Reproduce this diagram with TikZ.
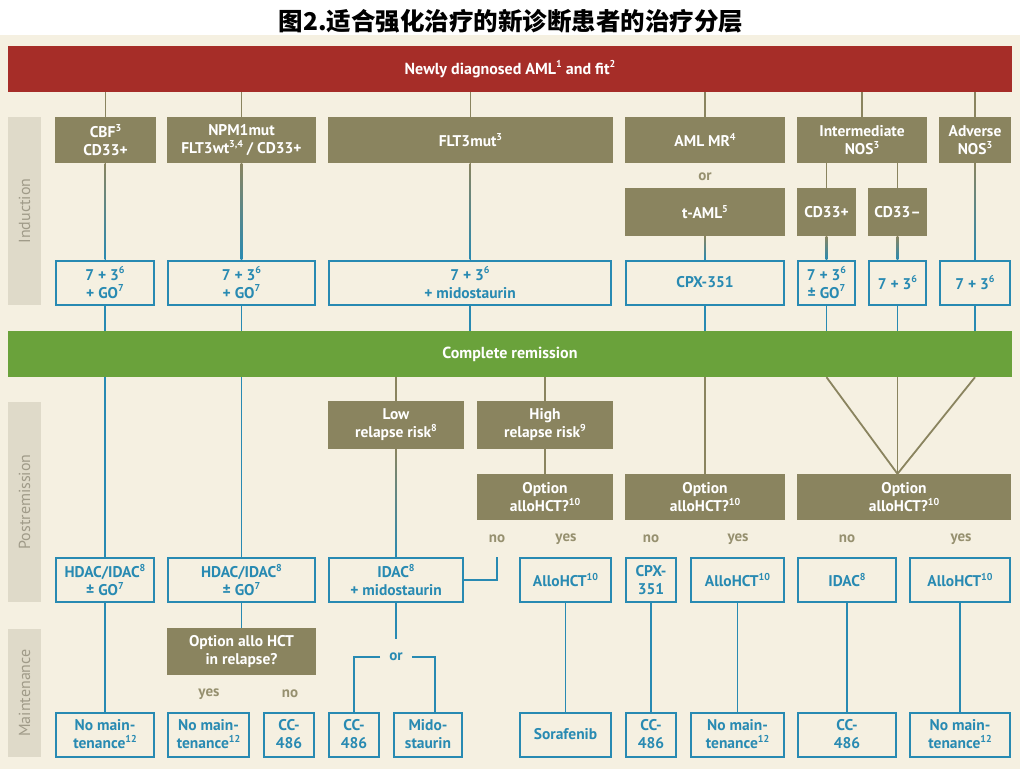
\documentclass[tikz,border=0pt]{standalone}
\usepackage{fontspec}
\setmainfont{PT Sans}
\newfontfamily\cjk{Noto Sans CJK SC}
\newcommand{\fnote}[1]{\raisebox{0.4em}{\fontsize{10}{10}\selectfont #1}}
\definecolor{bgc}{RGB}{245,240,225}
\definecolor{redc}{RGB}{166,45,40}
\definecolor{olivec}{RGB}{138,132,95}
\definecolor{greenc}{RGB}{106,162,59}
\definecolor{bluec}{RGB}{40,138,178}
\definecolor{bandc}{RGB}{223,218,201}
\definecolor{bandtxt}{RGB}{160,155,137}
\begin{document}
\begin{tikzpicture}[x=1pt, y=-1pt,
            obox/.style={fill=olivec, text=white, font=\bfseries\fontsize{15.5}{18}\selectfont, align=center, inner sep=0pt, minimum height=46},
            bbox/.style={draw=bluec, line width=2pt, fill=bgc, text=bluec, font=\bfseries\fontsize{15.5}{18}\selectfont, align=center, inner sep=0pt, minimum height=44},
            band/.style={fill=bandc, text=bandtxt, font=\fontsize{16}{18}\selectfont, minimum height=33, inner sep=0pt, rotate=90},
            bar/.style={text=white, font=\bfseries\fontsize{16}{18}\selectfont, minimum width=1004, minimum height=46, inner sep=0pt},
            answer/.style={text=olivec!90, font=\bfseries\fontsize{15}{17}\selectfont, inner sep=2pt},
            oline/.style={draw=olivec, line width=1.8pt},
            bline/.style={draw=bluec, line width=1.8pt}]
            \useasboundingbox (0,0) rectangle (1020,769);
            \fill[bgc] (0,35) rectangle (1020,769);
            \node[font=\cjk\bfseries\fontsize{24.5}{26}\selectfont] (title) at (511,21) {图2.适合强化治疗的新诊断患者的治疗分层};
            \node[band, minimum width=188] (ind) at (24.5,211) {Induction};
            \node[band, minimum width=200] (post) at (24.5,502) {Postremission};
            \node[band, minimum width=128] (maint) at (24.5,693) {Maintenance};
            \node[bar, fill=redc] (red) at (510,69) {Newly diagnosed AML\fnote{1} and fit\fnote{2}};
            \node[bar, fill=greenc] (green) at (510,354) {Complete remission};
            \node[obox, minimum width=101] (cbf) at (105.5,140) {CBF\fnote{3}\\CD33+};
            \node[obox, minimum width=149] (npm) at (241.5,140) {NPM1mut\\FLT3wt\fnote{3,4} / CD33+};
            \node[obox, minimum width=285] (flt) at (470.5,140) {FLT3mut\fnote{3}};
            \node[obox, minimum width=160] (amlmr) at (705,140) {AML MR\fnote{4}};
            \node[obox, minimum width=130] (inter) at (862,140) {Intermediate\\NOS\fnote{3}};
            \node[obox, minimum width=72] (adv) at (975,140) {Adverse\\NOS\fnote{3}};
            \node[answer] (or1) at (705,177) {or};
            \node[obox, minimum width=160, minimum height=48] (tam) at (705,212) {t-AML\fnote{5}};
            \node[obox, minimum width=59, minimum height=48] (cdp) at (826.5,212) {CD33+};
            \node[obox, minimum width=59, minimum height=48] (cdm) at (897.5,212) {CD33–};
            \node[bbox, minimum width=98] (i1) at (105,282.5) {7 + 3\fnote{6}\\+ GO\fnote{7}};
            \node[bbox, minimum width=147] (i2) at (241.5,282.5) {7 + 3\fnote{6}\\+ GO\fnote{7}};
            \node[bbox, minimum width=282] (i3) at (470,282.5) {7 + 3\fnote{6}\\+ midostaurin};
            \node[bbox, minimum width=158] (i4) at (705,282.5) {CPX-351};
            \node[bbox, minimum width=57] (i5) at (826.5,282.5) {7 + 3\fnote{6}\\± GO\fnote{7}};
            \node[bbox, minimum width=57] (i6) at (897.5,282.5) {7 + 3\fnote{6}};
            \node[bbox, minimum width=70] (i7) at (975,282.5) {7 + 3\fnote{6}};
            \node[obox, minimum width=136, minimum height=48] (low) at (396,425) {Low\\relapse risk\fnote{8}};
            \node[obox, minimum width=136, minimum height=48] (high) at (545,425) {High\\relapse risk\fnote{9}};
            \node[obox, minimum width=136] (opt1) at (545,497) {Option\\alloHCT?\fnote{10}};
            \node[obox, minimum width=160] (opt2) at (705,497) {Option\\alloHCT?\fnote{10}};
            \node[obox, minimum width=214] (opt3) at (904,497) {Option\\alloHCT?\fnote{10}};
            \node[answer] (no1) at (497,539) {no};
            \node[answer] (yes1) at (566,539) {yes};
            \node[answer] (no2) at (651,539) {no};
            \node[answer] (yes2) at (738,539) {yes};
            \node[answer] (no3) at (847,539) {no};
            \node[answer] (yes3) at (961,539) {yes};
            \node[bbox, minimum width=98] (p1) at (105,580) {HDAC/IDAC\fnote{8}\\± GO\fnote{7}};
            \node[bbox, minimum width=147] (p2) at (241.5,580) {HDAC/IDAC\fnote{8}\\± GO\fnote{7}};
            \node[bbox, minimum width=134] (p3) at (396,580) {IDAC\fnote{8}\\+ midostaurin};
            \node[bbox, minimum width=91] (p4) at (565.5,580) {AlloHCT\fnote{10}};
            \node[bbox, minimum width=50] (p5) at (651,580) {CPX-\\351};
            \node[bbox, minimum width=93] (p6) at (737.5,580) {AlloHCT\fnote{10}};
            \node[bbox, minimum width=98] (p7) at (847,580) {IDAC\fnote{8}};
            \node[bbox, minimum width=100] (p8) at (960,580) {AlloHCT\fnote{10}};
            \node[obox, minimum width=149, minimum height=47] (rel) at (241.5,651.5) {Option allo HCT\\in relapse?};
            \node[answer] (yes4) at (209,694) {yes};
            \node[answer] (no4) at (290,694) {no};
            \node[answer, text=bluec, inner xsep=9pt, minimum height=36] (or2) at (396,657) {or};
            \node[bbox, minimum width=98] (m1) at (105,734.5) {No main-\\tenance\fnote{12}};
            \node[bbox, minimum width=81] (m2) at (208.5,734.5) {No main-\\tenance\fnote{12}};
            \node[bbox, minimum width=50] (m3) at (289,734.5) {CC-\\486};
            \node[bbox, minimum width=50] (m4) at (354,734.5) {CC-\\486};
            \node[bbox, minimum width=68] (m5) at (428,734.5) {Mido-\\staurin};
            \node[bbox, minimum width=91] (m6) at (565.5,734.5) {Sorafenib};
            \node[bbox, minimum width=50] (m7) at (651,734.5) {CC-\\486};
            \node[bbox, minimum width=93] (m8) at (737.5,734.5) {No main-\\tenance\fnote{12}};
            \node[bbox, minimum width=98] (m9) at (847,734.5) {CC-\\486};
            \node[bbox, minimum width=100] (m10) at (960,734.5) {No main-\\tenance\fnote{12}};
            \foreach \a in {cbf,npm,flt,amlmr,inter,adv}
                \draw[oline] (\a |- red.south) -- (\a.north);
            \draw[oline] (cdp |- inter.south) -- (cdp.north);
            \draw[oline] (cdm |- inter.south) -- (cdm.north);
            \foreach \a/\b in {cbf/i1,npm/i2,flt/i3,tam/i4,cdp/i5,cdm/i6,adv/i7,low/p3}
                \shade[top color=olivec, middle color=olivec, bottom color=bluec] ([xshift=-0.9pt]\a.south) rectangle ([xshift=0.9pt]\b.north);
            \foreach \a in {i1,i2,i3,i4,i5,i6,i7}
                \draw[bline] (\a.south) -- (\a |- green.north);
            \draw[bline] (p1 |- green.south) -- (p1.north);
            \draw[bline] (p2 |- green.south) -- (p2.north);
            \draw[oline] (low |- green.south) -- (low.north);
            \draw[oline] (high |- green.south) -- (high.north);
            \draw[oline] (high.south) -- (opt1.north);
            \draw[oline] (opt2 |- green.south) -- (opt2.north);
            \foreach \a in {cdp,cdm,adv}
                \draw[oline, line join=bevel] (\a |- green.south) -- (cdm |- opt3.north);
            \draw[bline] (p3.east) -| (no1 |- p3.north);
            \draw[bline] (p1.south) -- (m1.north);
            \draw[bline] (p2.south) -- (rel.north);
            \draw[bline] (p3.south) -- (or2.north);
            \draw[bline] (or2.west) -| (m4.north);
            \draw[bline] (or2.east) -| ([xshift=7pt]m5.north);
            \foreach \a/\b in {p4/m6,p5/m7,p6/m8,p7/m9,p8/m10}
                \draw[bline] (\a.south) -- (\b.north);
        \end{tikzpicture}
\end{document}
